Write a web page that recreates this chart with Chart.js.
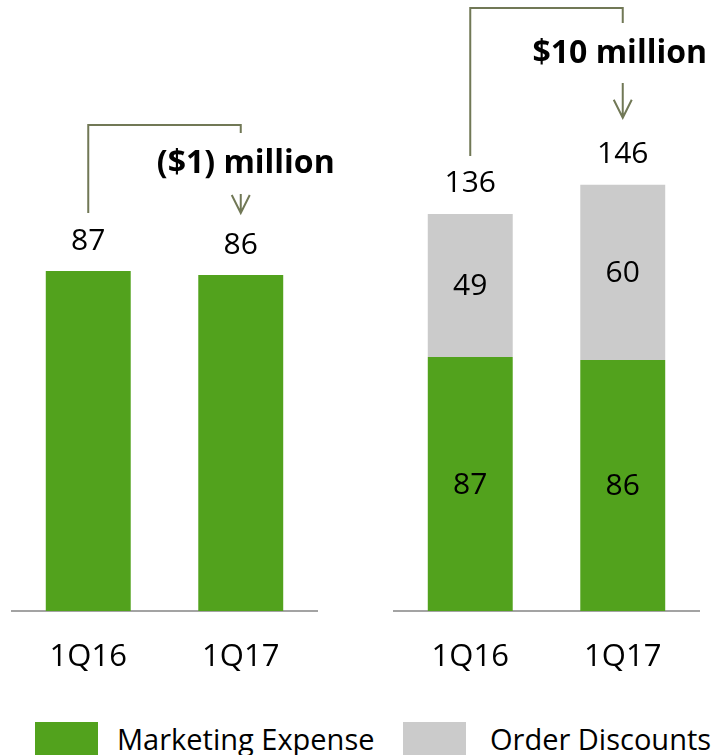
<!DOCTYPE html>
<html>
<head>
<meta charset="utf-8">
<script src="https://cdn.jsdelivr.net/npm/chart.js@4.4.1/dist/chart.umd.min.js"></script>
<style>
  body { margin: 0; width: 715px; height: 755px; overflow: hidden; background: #fff; position: relative;
         font-family: "Open Sans", sans-serif; }
  #leftChart { position: absolute; left: 0; top: 0; }
  #rightChart { position: absolute; left: 380px; top: 0; }
  .key { position: absolute; top: 722px; height: 40px; }
  .swatch { position: absolute; top: 0; width: 63px; height: 40px; }
  .key span { position: absolute; top: -3px; font-size: 29px; line-height: 40px; white-space: nowrap; color: #000; }
</style>
</head>
<body>
<canvas id="leftChart" width="370" height="700"></canvas>
<canvas id="rightChart" width="335" height="700"></canvas>

<div class="key" style="left:35px">
  <div class="swatch" style="background:#52a21d"></div>
  <span style="left:82px">Marketing Expense</span>
</div>
<div class="key" style="left:403px">
  <div class="swatch" style="background:#cbcbcb"></div>
  <span style="left:87px">Order Discounts</span>
</div>

<script>
// quarterly figures ($ millions)
const quarters = ['1Q16', '1Q17'];
const marketingExpense = [87, 86];
const orderDiscounts = [49, 60];
const changeMarketing = '($1) million';
const changeTotal = '$10 million';

const GREEN = '#52a21d';
const GREY = '#cbcbcb';
const LINE = '#717856';
const FONT = '"Open Sans", sans-serif';

// numbers inside stacked segments and totals above each column
const barLabels = {
  id: 'barLabels',
  afterDatasetsDraw(chart) {
    const ctx = chart.ctx;
    const sets = chart.data.datasets;
    ctx.save();
    ctx.font = '30px ' + FONT;
    ctx.fillStyle = '#000';
    ctx.textAlign = 'center';
    ctx.textBaseline = 'middle';
    if (sets.length > 1) {
      sets.forEach((ds, i) => {
        chart.getDatasetMeta(i).data.forEach((bar, j) => {
          ctx.fillText(ds.data[j], bar.x, (bar.y + bar.base) / 2 + 1);
        });
      });
    }
    chart.getDatasetMeta(sets.length - 1).data.forEach((bar, j) => {
      const total = sets.reduce((s, ds) => s + ds.data[j], 0);
      ctx.fillText(total, bar.x, bar.y - 30);
    });
    ctx.restore();
  }
};

// bracket from first column to second, with the change text and a down arrow
const changeBracket = {
  id: 'changeBracket',
  afterDatasetsDraw(chart, args, o) {
    const ctx = chart.ctx;
    const meta = chart.getDatasetMeta(chart.data.datasets.length - 1).data;
    const a = meta[0], b = meta[1];
    ctx.save();
    ctx.strokeStyle = LINE;
    ctx.lineWidth = 2;
    ctx.beginPath();
    ctx.moveTo(a.x, a.y - 58);
    ctx.lineTo(a.x, o.top);
    ctx.lineTo(b.x, o.top);
    ctx.lineTo(b.x, o.top + o.drop);
    ctx.stroke();

    // arrow
    const tip = b.y - o.tipGap;
    ctx.beginPath();
    ctx.moveTo(b.x, o.shaftTop);
    ctx.lineTo(b.x, tip);
    ctx.moveTo(b.x - 9, tip - 18);
    ctx.lineTo(b.x, tip);
    ctx.lineTo(b.x + 9, tip - 18);
    ctx.stroke();

    ctx.font = 'bold 32px ' + FONT;
    ctx.fillStyle = '#000';
    ctx.textAlign = 'center';
    ctx.textBaseline = 'middle';
    ctx.fillText(o.text, b.x + o.textDx, o.textY);
    ctx.restore();
  }
};

function xAxis() {
  return {
    grid: { display: false, drawTicks: false },
    border: { display: true, color: '#a3a3a3', width: 2 },
    ticks: { color: '#000', font: { family: FONT, size: 31 }, padding: 28 },
    afterFit: s => { s.height = 89; }
  };
}

function baseOptions(max, padding, bracket) {
  return {
    responsive: false,
    animation: false,
    layout: { padding: padding },
    plugins: {
      legend: { display: false },
      tooltip: { enabled: false },
      changeBracket: bracket
    },
    datasets: { bar: { categoryPercentage: 1, barPercentage: 0.557 } },
    scales: {
      x: Object.assign(xAxis(), { stacked: true }),
      y: { display: false, stacked: true, min: 0, max: max }
    }
  };
}

new Chart(document.getElementById('leftChart'), {
  type: 'bar',
  data: {
    labels: quarters,
    datasets: [
      { label: 'Marketing Expense', data: marketingExpense, backgroundColor: GREEN, borderWidth: 0 }
    ]
  },
  options: baseOptions(150, { left: 12, right: 53, top: 25, bottom: 0 },
    { text: changeMarketing, top: 125, drop: 8, shaftTop: 194, tipGap: 62, textY: 164, textDx: 5 }),
  plugins: [barLabels, changeBracket]
});

new Chart(document.getElementById('rightChart'), {
  type: 'bar',
  data: {
    labels: quarters,
    datasets: [
      { label: 'Marketing Expense', data: marketingExpense, backgroundColor: GREEN, borderWidth: 0 },
      { label: 'Order Discounts', data: orderDiscounts, backgroundColor: GREY, borderWidth: 0 }
    ]
  },
  options: baseOptions(200, { left: 14, right: 16, top: 27, bottom: 0 },
    { text: changeTotal, top: 8, drop: 15, shaftTop: 83, tipGap: 67, textY: 54, textDx: -3 }),
  plugins: [barLabels, changeBracket]
});
</script>
</body>
</html>
